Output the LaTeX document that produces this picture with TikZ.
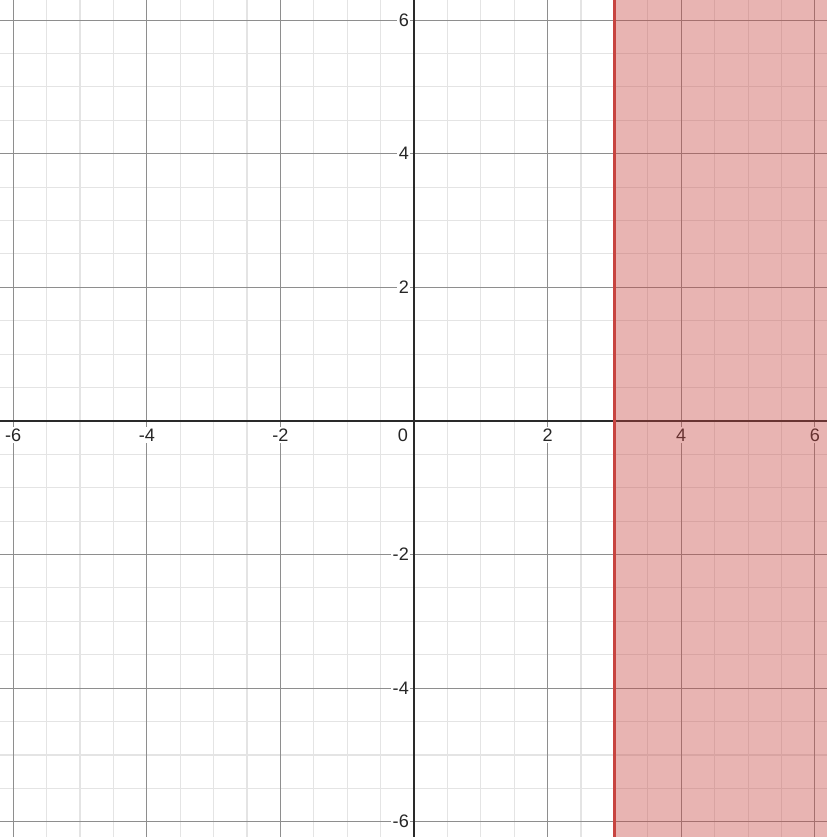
\documentclass[tikz,border=0pt]{standalone}
\usepackage{fontspec}
\setmainfont{Liberation Sans}
\definecolor{dred}{HTML}{C74440}
\definecolor{minorgrid}{HTML}{E4E4E4}
\definecolor{majorgrid}{HTML}{8E8E8E}
\definecolor{axiscol}{HTML}{2A2A2A}
\tikzset{
  minorline/.style={draw=minorgrid, line width=0.45pt},
  majorline/.style={draw=majorgrid, line width=0.45pt},
  axisline/.style={draw=axiscol, line width=0.9pt},
  ticklabel/.style={font=\fontsize{7.7}{9}\selectfont, text=black!85, fill=white, inner sep=0.6pt},
  region/.style={fill=dred, fill opacity=0.4},
  boundary/.style={draw=dred, line width=1.3pt}
}
\begin{document}
\begin{tikzpicture}[x=1cm,y=1cm]
\useasboundingbox (-6.198,-6.228) rectangle (6.183,6.302);
\fill[white] (-6.198,-6.228) rectangle (6.183,6.302);
% minor grid
\foreach \v in {-6,-5.5,...,6} {
  \draw[minorline] (\v,-6.228) -- (\v,6.302);
  \draw[minorline] (-6.198,\v) -- (6.183,\v);
}
% major grid
\foreach \v in {-6,-4,-2,2,4,6} {
  \draw[majorline] (\v,-6.228) -- (\v,6.302);
  \draw[majorline] (-6.198,\v) -- (6.183,\v);
}
% axes
\draw[axisline] (-6.198,0) -- (6.183,0);
\draw[axisline] (0,-6.228) -- (0,6.302);
% labels
\foreach \v in {-6,-4,-2,2,4,6} {
  \node[ticklabel] (xl\v) at (\v,-0.21) {\v};
}
\foreach \v in {-6,-4,-2,2,4,6} {
  \node[ticklabel, anchor=east] (yl\v) at (-0.05,\v) {\v};
}
\node[ticklabel] (o) at (-0.165,-0.21) {0};
% region x >= 3
\fill[region] (3,-6.228) rectangle (6.183,6.302);
\draw[boundary] (3,-6.228) -- (3,6.302);
\end{tikzpicture}
\end{document}
